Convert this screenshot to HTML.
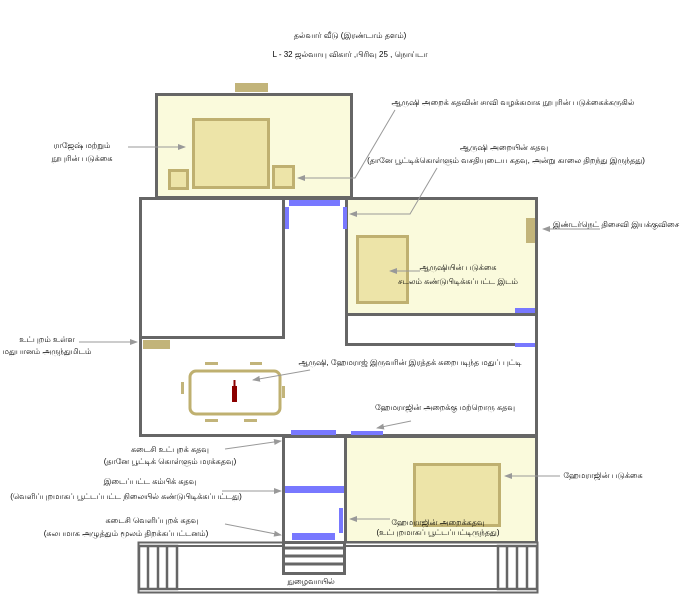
<!DOCTYPE html>
<html><head><meta charset="utf-8"><style>
html,body{margin:0;padding:0;background:#fff;}
svg{display:block;}
text{font-family:"Liberation Sans","Noto Sans CJK SC",sans-serif;font-size:8px;fill:#000;}
</style></head><body>
<svg width="700" height="613" viewBox="0 0 700 613" xmlns="http://www.w3.org/2000/svg">
<defs><marker id="a" markerWidth="8" markerHeight="6" refX="7" refY="3" orient="auto"><path d="M0,0 L8,3 L0,6 z" fill="#999"/></marker></defs>
<text x="350" y="38" text-anchor="middle" font-size="9">தல்வார் வீடு (இரண்டாம் தளம்)</text>
<text x="350" y="57" text-anchor="middle" font-size="9">L - 32 ஜல்வாயு விகார் ,பிரிவு 25 , நொய்டா</text>
<rect x="235" y="83" width="33" height="9" fill="#c2b47a"/>
<rect x="156.5" y="94.5" width="195" height="103" fill="#fafadc" stroke="#666" stroke-width="3"/>
<rect x="193.5" y="119.5" width="75" height="68" fill="#ede4a8" stroke="#bfb070" stroke-width="3"/>
<rect x="169.5" y="170.5" width="18" height="18" fill="#ede4a8" stroke="#bfb070" stroke-width="3"/>
<rect x="273.5" y="166.5" width="20" height="21" fill="#ede4a8" stroke="#bfb070" stroke-width="3"/>
<rect x="140.5" y="198.5" width="396" height="237" fill="#fff" stroke="#666" stroke-width="3"/>
<rect x="140.5" y="198.5" width="143" height="139" fill="#fff" stroke="#666" stroke-width="3"/>
<rect x="346.5" y="198.5" width="190" height="116" fill="#fafadc" stroke="#666" stroke-width="3"/>
<rect x="346.5" y="314.5" width="190" height="30" fill="#fff" stroke="#666" stroke-width="3"/>
<rect x="289" y="200" width="51" height="6" fill="#7878ff"/>
<rect x="285" y="207" width="4" height="22" fill="#7878ff"/>
<rect x="343" y="207" width="4" height="22" fill="#7878ff"/>
<rect x="526" y="218" width="9" height="25" fill="#c2b47a"/>
<rect x="357.5" y="236.5" width="50" height="66" fill="#ede4a8" stroke="#bfb070" stroke-width="3"/>
<rect x="515" y="308" width="20" height="5" fill="#7878ff"/>
<rect x="515" y="343" width="20" height="4" fill="#7878ff"/>
<rect x="143" y="340" width="27" height="9" fill="#c2b47a"/>
<rect x="190" y="371" width="90" height="43" rx="6" fill="none" stroke="#bfb070" stroke-width="3"/>
<g fill="#c2b47a"><rect x="205" y="362" width="13" height="3"/><rect x="250" y="362" width="12" height="3"/><rect x="205" y="419" width="13" height="3"/><rect x="244" y="419" width="13" height="3"/><rect x="181" y="382" width="3" height="12"/><rect x="282" y="386" width="3" height="12"/></g>
<rect x="232" y="386" width="5" height="16" fill="#8b0000"/><rect x="233.5" y="380" width="2" height="7" fill="#8b0000"/>
<rect x="291" y="430" width="45" height="6" fill="#7878ff"/>
<rect x="351" y="431" width="32" height="5" fill="#7878ff"/>
<rect x="345.5" y="436.5" width="191" height="106" fill="#fafadc" stroke="#666" stroke-width="3"/>
<rect x="283.5" y="436.5" width="62" height="106" fill="#fff" stroke="#666" stroke-width="3"/>
<rect x="414.5" y="464.5" width="85" height="61" fill="#ede4a8" stroke="#bfb070" stroke-width="3"/>
<rect x="285" y="486" width="59" height="7" fill="#7878ff"/>
<rect x="339" y="508" width="4" height="25" fill="#7878ff"/>
<rect x="292" y="533" width="43" height="7" fill="#7878ff"/>
<!-- base -->
<rect x="138.5" y="542.5" width="399" height="50" fill="#fff" stroke="#666" stroke-width="2"/>
<line x1="138" y1="546" x2="538" y2="546" stroke="#666" stroke-width="2"/>
<line x1="138" y1="589" x2="538" y2="589" stroke="#666" stroke-width="2"/>
<rect x="283.5" y="542.5" width="61" height="31" fill="#fff" stroke="#666" stroke-width="3"/>
<g stroke="#666" stroke-width="3"><line x1="284" y1="548" x2="345" y2="548"/><line x1="284" y1="556" x2="345" y2="556"/><line x1="284" y1="564" x2="345" y2="564"/></g>
<g fill="none" stroke="#666" stroke-width="2.5"><rect x="139" y="546" width="38" height="43"/><line x1="148" y1="546" x2="148" y2="589"/><line x1="158" y1="546" x2="158" y2="589"/><line x1="167" y1="546" x2="167" y2="589"/>
<rect x="498" y="546" width="39" height="43"/><line x1="507" y1="546" x2="507" y2="589"/><line x1="517" y1="546" x2="517" y2="589"/><line x1="527" y1="546" x2="527" y2="589"/></g>
<g stroke="#999" stroke-width="1" fill="none" marker-end="url(#a)">
<line x1="128" y1="147" x2="185" y2="147"/>
<polyline points="395,110 355,178 298,178"/>
<polyline points="437,168 410,214 350,214"/>
<line x1="600" y1="229" x2="543" y2="229"/>
<line x1="420" y1="271" x2="390" y2="271"/>
<line x1="79" y1="342" x2="137" y2="342"/>
<line x1="310" y1="370" x2="253" y2="380"/>
<line x1="411" y1="421" x2="377" y2="428"/>
<line x1="225" y1="449" x2="281" y2="441"/>
<line x1="222" y1="491" x2="281" y2="491"/>
<line x1="225" y1="524" x2="281" y2="535"/>
<line x1="390" y1="519" x2="350" y2="519"/>
<line x1="560" y1="476" x2="505" y2="476"/>
</g>
<text x="513" y="105" text-anchor="middle">ஆருஷி அறைக் கதவின் சாவி வழக்கமாக நூபுரின் படுக்கைக்கருகில்</text>
<text x="82" y="148" text-anchor="middle">ராஜேஷ் மற்றும்</text>
<text x="82" y="161" text-anchor="middle">நூபுரின் படுக்கை</text>
<text x="504" y="150" text-anchor="middle">ஆருஷி அறையின் கதவு</text>
<text x="506" y="163" text-anchor="middle">(தானே பூட்டிக்கொள்ளும் வசதியுடைய கதவு, அன்று காலை திறந்து இருந்தது)</text>
<text x="616" y="227" text-anchor="middle">இண்டர்நெட் திசைவி இயக்குவிசை</text>
<text x="458" y="270" text-anchor="middle">ஆருஷியின் படுக்கை</text>
<text x="458" y="284" text-anchor="middle">சடலம் கண்டுபிடிக்கப்பட்ட இடம்</text>
<text x="47" y="342" text-anchor="middle">உட்புறம் உள்ள</text>
<text x="47" y="354" text-anchor="middle">மதுபானம் அருந்துமிடம்</text>
<text x="410" y="365" text-anchor="middle">ஆருஷி, ஹேமராஜ் இருவரின் இரத்தக் கறைபடிந்த மதுப் புட்டி</text>
<text x="445" y="410" text-anchor="middle">ஹேமராஜின் அறைக்கு மற்றொரு கதவு</text>
<text x="170" y="452" text-anchor="middle">கடைசி உட்புறக் கதவு</text>
<text x="170" y="464" text-anchor="middle">(தானே பூட்டிக் கொள்ளும் மரக்கதவு)</text>
<text x="150" y="484" text-anchor="middle">இடைப்பட்ட கம்பிக் கதவு</text>
<text x="126" y="499" text-anchor="middle">(வெளிப்புறமாகப் பூட்டப்பட்ட நிலையில் கண்டுபிடிக்கப்பட்டது)</text>
<text x="152" y="523" text-anchor="middle">கடைசி வெளிப்புறக் கதவு</text>
<text x="126" y="536" text-anchor="middle">(சுலபமாக அழுத்தும் மூலம் திறக்கப்பட்டனம்)</text>
<text x="603" y="478" text-anchor="middle">ஹேமராஜின் படுக்கை</text>
<text x="438" y="525" text-anchor="middle">ஹேமராஜின் அறைக்கதவு</text>
<text x="438" y="535" text-anchor="middle">(உட்புறமாகப் பூட்டப்பட்டிருந்தது)</text>
<text x="311" y="584" text-anchor="middle">நுழைவாயில்</text>
</svg>
</body></html>
